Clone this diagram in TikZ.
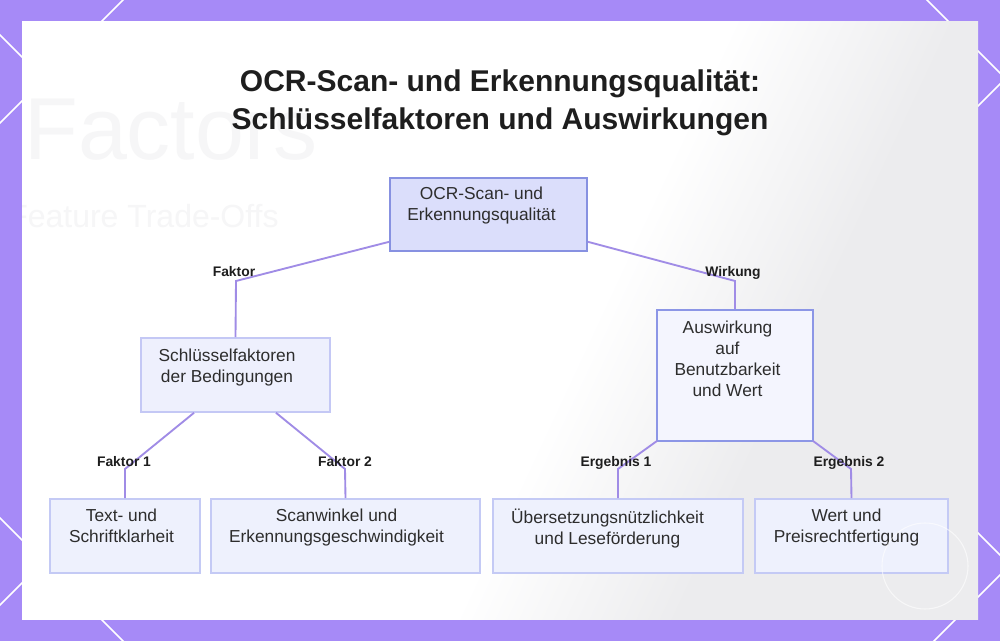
\documentclass[tikz,border=0pt]{standalone}
\usepackage{fontspec}
\setmainfont{Liberation Sans}
\usetikzlibrary{calc}
\definecolor{bgpurple}{RGB}{166,138,247}
\definecolor{edgec}{RGB}{160,140,230}
\definecolor{rootfill}{RGB}{219,222,251}
\definecolor{rootdraw}{RGB}{135,145,225}
\definecolor{midfill}{RGB}{238,240,253}
\definecolor{middraw}{RGB}{196,200,245}
\definecolor{mrfill}{RGB}{244,245,254}
\definecolor{mrdraw}{RGB}{140,150,230}
\definecolor{leaffill}{RGB}{238,241,253}
\definecolor{leafdraw}{RGB}{196,202,245}
\definecolor{txtc}{RGB}{45,45,45}
\definecolor{labc}{RGB}{30,30,30}
\definecolor{titlec}{RGB}{30,30,30}
\definecolor{shadec}{RGB}{236,236,238}
\definecolor{ghost}{RGB}{246,246,247}
\pgfdeclarehorizontalshading{cardshade}{100bp}{color(0bp)=(white); color(55bp)=(white); color(67bp)=(shadec); color(100bp)=(shadec)}
\tikzset{
  diag/.style={white, line width=1.2pt},
  edge/.style={draw=edgec, line width=1.4pt},
  boxbase/.style={rectangle, inner sep=0pt, line width=1.2pt},
  rootbox/.style={boxbase, fill=rootfill, draw=rootdraw},
  midbox/.style={boxbase, fill=midfill, draw=middraw},
  mrbox/.style={boxbase, fill=mrfill, draw=mrdraw},
  leafbox/.style={boxbase, fill=leaffill, draw=leafdraw, minimum height=55.5pt},
  txt/.style={anchor=north, inner sep=0pt, align=center, text=txtc, font=\fontsize{13}{15.75}\selectfont},
  lab/.style={anchor=base, inner sep=0pt, text=labc, font=\bfseries\fontsize{10.4}{12}\selectfont},
  ttl/.style={anchor=base, inner sep=0pt, text=titlec, font=\bfseries\fontsize{22.5}{27}\selectfont},
}
\begin{document}
\begin{tikzpicture}[x=0.75pt,y=-0.75pt]
\useasboundingbox (0,0) rectangle (1000,641);
\fill[bgpurple] (0,0) rectangle (1000,641);
\begin{scope}
  \clip (0,0) rectangle (1000,641);
  \draw[diag] (133,-10) -- (-10,133);
  \draw[diag] (-10,25) -- (100,135);
  \draw[diag] (-10,508) -- (140,658);
  \draw[diag] (-10,615) -- (100,505);
  \draw[diag] (917,-10) -- (1010,83);
  \draw[diag] (1010,74) -- (900,184);
  \draw[diag] (900,455) -- (1010,565);
  \draw[diag] (1010,565) -- (925,650);
\end{scope}
% card
\shade[shading=cardshade, shading angle=-25] (22,22) rectangle (978,619);
\begin{scope}
  \clip (22,22) rectangle (978,619);
  \node[anchor=base west, inner sep=0pt, text=ghost, font=\fontsize{66}{70}\selectfont] (ghost1) at (24,160) {Factors};
  \node[anchor=base west, inner sep=0pt, text=ghost, font=\fontsize{24}{28}\selectfont] (ghost2) at (8,228) {Feature Trade-Offs};
\end{scope}
% title
\node[ttl] (t1) at (500,92) {OCR-Scan- und Erkennungsqualität:};
\node[ttl] (t2) at (500,130) {Schlüsselfaktoren und Auswirkungen};
% boxes
\node[rootbox, minimum width=147.75pt, minimum height=54.75pt] (root) at (488.5,214.5) {};
\node[midbox, minimum width=141.75pt, minimum height=55.5pt] (ml) at (235.5,375) {};
\node[mrbox, minimum width=117pt, minimum height=98.25pt] (mr) at (735,375.5) {};
\node[leafbox, minimum width=112.5pt] (l1) at (125,536) {};
\node[leafbox, minimum width=201.75pt] (l2) at (345.5,536) {};
\node[leafbox, minimum width=187.5pt] (l3) at (618,536) {};
\node[leafbox, minimum width=144.75pt] (l4) at (851.5,536) {};
% texts
\node[txt] (rootT) at (481.5,187) {OCR-Scan- und\\Erkennungsqualität};
\node[txt] (mlT) at (227,349) {Schlüsselfaktoren\\der Bedingungen};
\node[txt] (mrT) at (727.5,321) {Auswirkung\\auf\\Benutzbarkeit\\und Wert};
\node[txt] (l1T) at (121.5,509) {Text- und\\Schriftklarheit};
\node[txt] (l2T) at (336.5,509) {Scanwinkel und\\Erkennungsgeschwindigkeit};
\node[txt] (l3T) at (607.5,509) {Übersetzungsnützlichkeit\\und Leseförderung};
\node[txt] (l4T) at (846.5,509) {Wert und\\Preisrechtfertigung};
% bends
\coordinate (b1) at (236,281);
\coordinate (b2) at (735,281);
\coordinate (b3) at (125,469);
\coordinate (b4) at (345,469);
\coordinate (b5) at (618,469);
\coordinate (b6) at (851,469);
% connectors
\draw[edge] ($(root.south west)+(0,-10)$) -- (b1) -- (ml.north);
\draw[edge] ($(root.south east)+(0,-10)$) -- (b2) -- (mr.north);
\draw[edge] ($(ml.south)+(-41.5,0)$) -- (b3) -- (l1.north);
\draw[edge] ($(ml.south)+(40.5,0)$) -- (b4) -- (l2.north);
\draw[edge] ($(mr.south west)+(1,-1)$) -- (b5) -- (l3.north);
\draw[edge] ($(mr.south east)+(-1,-1)$) -- (b6) -- (l4.north);
% labels
\node[lab] (la1) at (234,277) {Faktor};
\node[lab] (la2) at (733,277) {Wirkung};
\node[lab] (la3) at (124,467) {Faktor 1};
\node[lab] (la4) at (345,467) {Faktor 2};
\node[lab] (la5) at (616,467) {Ergebnis 1};
\node[lab] (la6) at (849,467) {Ergebnis 2};
% watermark circle
\draw[white, line width=0.8pt, opacity=0.6] (925,566) circle[radius=43];
\end{tikzpicture}
\end{document}
